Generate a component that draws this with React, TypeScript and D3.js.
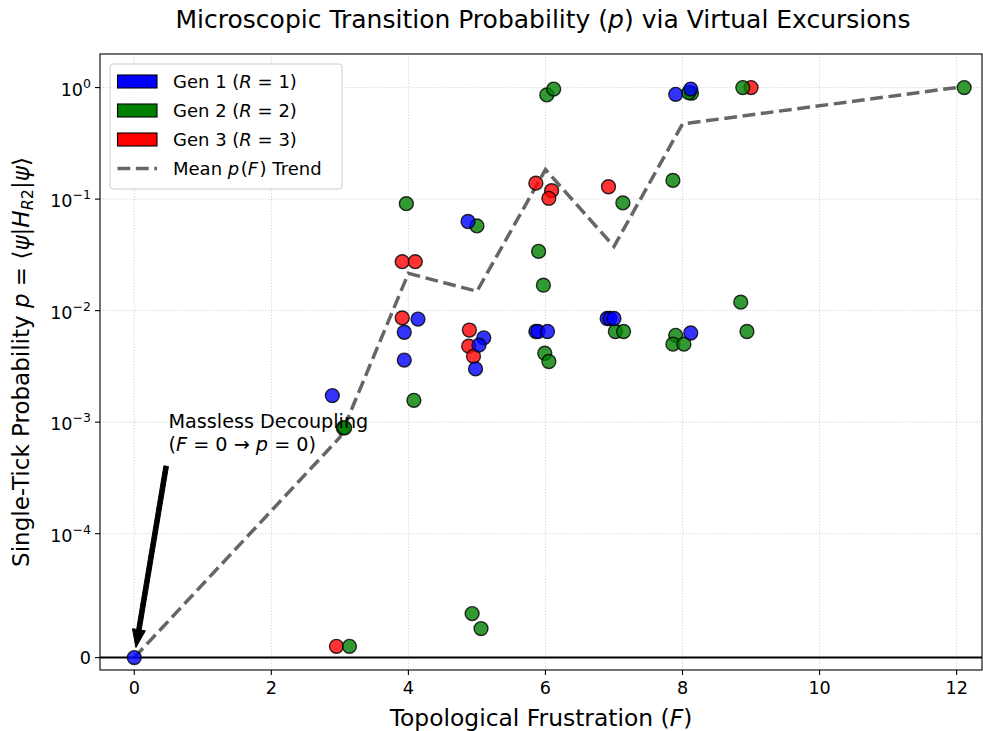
import * as d3 from 'd3'
import React from 'react'

// --- data (F, p) ---
const gen1F = [0, 2.89, 3.94, 3.94, 4.14, 4.87, 5.1, 5.03, 4.98, 5.86, 5.89, 6.03, 6.9, 6.94, 7.0, 8.12, 7.9, 8.12]
const gen1P = [0, 1.73e-3, 6.4e-3, 3.6e-3, 8.4e-3, 0.063, 5.7e-3, 4.9e-3, 3.0e-3, 6.5e-3, 6.5e-3, 6.5e-3, 8.5e-3, 8.5e-3, 8.5e-3, 6.3e-3, 0.87, 0.97]

const gen2F = [3.14, 3.05, 3.07, 3.97, 4.08, 5.0, 4.93, 5.06, 5.9, 5.97, 6.02, 6.12, 5.99, 6.05, 7.02, 7.14, 7.13, 7.86, 7.9, 7.86, 8.02, 8.13, 8.09, 8.85, 8.94, 8.88, 12.11]
const gen2P = [9.1e-6, 8.9e-4, 8.9e-4, 0.091, 1.57e-3, 0.0575, 3.55e-5, 2.34e-5, 0.034, 0.0169, 0.86, 0.97, 4.15e-3, 3.5e-3, 6.5e-3, 6.5e-3, 0.0925, 0.147, 6.0e-3, 5.0e-3, 5.0e-3, 0.89, 0.9, 0.0119, 6.5e-3, 1.0, 1.0]

const gen3F = [2.95, 3.91, 4.1, 3.91, 4.89, 4.88, 4.95, 5.86, 6.09, 6.05, 6.92, 9.0]
const gen3P = [9.1e-6, 0.0275, 0.0275, 8.6e-3, 6.7e-3, 4.8e-3, 3.9e-3, 0.139, 0.119, 0.1016, 0.129, 1.0]

const trendF = [0, 3, 4, 5, 6, 7, 8, 12]
const trendP = [0, 7.3e-4, 0.0216, 0.0149, 0.184, 0.0376, 0.472, 1.0]

const xTicks = [0, 2, 4, 6, 8, 10, 12]
const yTicks = [0, 1e-4, 1e-3, 1e-2, 1e-1, 1]
const yTickExp = ['', '\u22124', '\u22123', '\u22122', '\u22121', '0']

const W = 983
const H = 731
const M = { left: 100, right: 982, top: 54, bottom: 670 }
const FONT = "'DejaVu Sans', sans-serif"

// matplotlib-like symlog (linthresh 1e-4, linscale 1)
const LT = 1e-4
const LS = 1 / (1 - 1 / 10)
const symlog = (v: number) => {
  const a = Math.abs(v)
  const t = a <= LT ? (a / LT) * LS : LS + Math.log10(a / LT)
  return v < 0 ? -t : t
}

const x = d3.scaleLinear().domain([-0.5, 12.37]).range([M.left, M.right])
const yT = d3.scaleLinear().domain([symlog(-1e-5), symlog(2)]).range([M.bottom, M.top])
const y = (v: number) => yT(symlog(v))

const gens = [
  { F: gen3F, P: gen3P, color: '#ff0000', label: 'Gen 3' },
  { F: gen2F, P: gen2P, color: '#008000', label: 'Gen 2' },
  { F: gen1F, P: gen1P, color: '#0000ff', label: 'Gen 1' }
]

const legendRows = [
  { color: '#0000ff', n: '1' },
  { color: '#008000', n: '2' },
  { color: '#ff0000', n: '3' }
]

export default function App() {
  const line = d3
    .line<number>()
    .x(i => x(trendF[i]))
    .y(i => y(trendP[i]))
  const trendPath = line(trendF.map((_, i) => i)) || ''

  // annotation arrow: from text bbox toward (0, 0), shrink 5% each end
  const sx = x(0.49)
  const sy = y(5.5e-4) + 5
  const ex = x(0)
  const ey = y(0)
  const dx = ex - sx
  const dy = ey - sy
  const ax0 = sx + 0.05 * dx
  const ay0 = sy + 0.05 * dy
  const ax1 = ex - 0.05 * dx
  const ay1 = ey - 0.05 * dy
  const len = Math.hypot(ax1 - ax0, ay1 - ay0)
  const ux = (ax1 - ax0) / len
  const uy = (ay1 - ay0) / len
  const nx = -uy
  const ny = ux
  const sw = 2.3
  const hw = 6.5
  const hl = 18
  const bx = ax1 - ux * hl
  const by = ay1 - uy * hl
  const arrowPts = [
    [ax0 + nx * sw, ay0 + ny * sw],
    [bx + nx * sw, by + ny * sw],
    [bx + nx * hw, by + ny * hw],
    [ax1, ay1],
    [bx - nx * hw, by - ny * hw],
    [bx - nx * sw, by - ny * sw],
    [ax0 - nx * sw, ay0 - ny * sw]
  ]
    .map(p => p.join(','))
    .join(' ')

  const legX = 110
  const legY = 64
  const rowY = (i: number) => legY + 17.5 + i * 29

  return (
    <svg
      width={W}
      height={H}
      style={{ position: 'absolute', left: 0, top: 0, background: '#fff', fontFamily: FONT }}
    >
      <rect x={0} y={0} width={W} height={H} fill="#fff" />

      {/* grid */}
      <g stroke="#b0b0b0" strokeOpacity={0.6} strokeWidth={1} strokeDasharray="1.1,1.8">
        {xTicks.map(t => (
          <line key={'gx' + t} x1={x(t)} x2={x(t)} y1={M.top} y2={M.bottom} />
        ))}
        {yTicks.slice(1).map(t => (
          <line key={'gy' + t} x1={M.left} x2={M.right} y1={y(t)} y2={y(t)} />
        ))}
      </g>

      {/* zero line */}
      <line x1={M.left} x2={M.right} y1={y(0)} y2={y(0)} stroke="#000" strokeWidth={2} />

      {/* trend */}
      <path
        d={trendPath}
        fill="none"
        stroke="#000"
        strokeOpacity={0.6}
        strokeWidth={3.5}
        strokeDasharray="12.8,5.6"
      />

      {/* points */}
      {gens.map(g => (
        <g key={g.label}>
          {g.F.map((f, i) => (
            <circle
              key={i}
              cx={x(f)}
              cy={y(g.P[i])}
              r={6.95}
              fill={g.color}
              fillOpacity={0.8}
              stroke="#000"
              strokeOpacity={0.8}
              strokeWidth={1.4}
            />
          ))}
        </g>
      ))}

      {/* annotation */}
      <polygon points={arrowPts} fill="#000" stroke="#000" strokeWidth={1} />
      <text x={x(0.5)} y={y(5.5e-4) - 23} fontSize={19.2} fill="#000">
        Massless Decoupling
      </text>
      <text x={x(0.5)} y={y(5.5e-4)} fontSize={19.2} fill="#000">
        (<tspan fontStyle="italic">F</tspan> = 0 → <tspan fontStyle="italic">p</tspan> = 0)
      </text>

      {/* spines */}
      <rect
        x={M.left}
        y={M.top}
        width={M.right - M.left}
        height={M.bottom - M.top}
        fill="none"
        stroke="#000"
        strokeWidth={1.1}
      />

      {/* x ticks */}
      {xTicks.map(t => (
        <g key={'xt' + t}>
          <line x1={x(t)} x2={x(t)} y1={M.bottom} y2={M.bottom + 5} stroke="#000" strokeWidth={1.1} />
          <text x={x(t)} y={M.bottom + 24} textAnchor="middle" fontSize={17.6}>
            {t}
          </text>
        </g>
      ))}

      {/* y ticks */}
      {yTicks.map((t, i) => (
        <g key={'yt' + i}>
          <line x1={M.left - 5} x2={M.left} y1={y(t)} y2={y(t)} stroke="#000" strokeWidth={1.1} />
          {t === 0 ? (
            <text x={M.left - 9} y={y(t) + 6.5} textAnchor="end" fontSize={17.6}>
              0
            </text>
          ) : (
            <text x={M.left - 9} y={y(t) + 8} textAnchor="end" fontSize={17.6}>
              10
              <tspan dy={-8} fontSize={12.5}>
                {yTickExp[i]}
              </tspan>
            </text>
          )}
        </g>
      ))}

      {/* axis labels */}
      <text x={(M.left + M.right) / 2} y={726} textAnchor="middle" fontSize={23.4}>
        Topological Frustration (<tspan fontStyle="italic">F</tspan>)
      </text>
      <text
        transform={`translate(29, ${(M.top + M.bottom) / 2}) rotate(-90)`}
        textAnchor="middle"
        fontSize={23}
      >
        Single-Tick Probability <tspan fontStyle="italic">p</tspan> = ⟨
        <tspan fontStyle="italic">ψ</tspan>|<tspan fontStyle="italic">H</tspan>
        <tspan fontSize={16} dy={4} fontStyle="italic">R</tspan>
        <tspan fontSize={16}>2</tspan>
        <tspan dy={-4}>|</tspan>
        <tspan fontStyle="italic">ψ</tspan>⟩
      </text>

      {/* title */}
      <text x={(M.left + M.right) / 2 + 2} y={28} textAnchor="middle" fontSize={25}>
        Microscopic Transition Probability (<tspan fontStyle="italic">p</tspan>) via Virtual Excursions
      </text>

      {/* legend */}
      <rect
        x={legX}
        y={legY}
        width={232}
        height={125}
        rx={3}
        fill="#fff"
        fillOpacity={0.8}
        stroke="#cccccc"
        strokeWidth={1}
      />
      {legendRows.map((row, i) => (
        <g key={'lg' + i}>
          <rect
            x={117.5}
            y={rowY(i) - 6.5}
            width={39.5}
            height={13}
            fill={row.color}
            stroke="#000"
            strokeWidth={1.1}
          />
          <text x={173} y={rowY(i) + 6.5} fontSize={18}>
            {'Gen ' + row.n + ' ('}
            <tspan fontStyle="italic">R</tspan>
            {' = ' + row.n + ')'}
          </text>
        </g>
      ))}
      <line
        x1={117.5}
        x2={157}
        y1={rowY(3)}
        y2={rowY(3)}
        stroke="#000"
        strokeOpacity={0.6}
        strokeWidth={3.5}
        strokeDasharray="12.8,5.6"
      />
      <text x={173} y={rowY(3) + 6.5} fontSize={18}>
        {'Mean '}
        <tspan fontStyle="italic">p</tspan>
        <tspan dx={1.5}>(</tspan>
        <tspan fontStyle="italic">F</tspan>
        <tspan dx={1.5}>)</tspan>
        {' Trend'}
      </text>
    </svg>
  )
}
